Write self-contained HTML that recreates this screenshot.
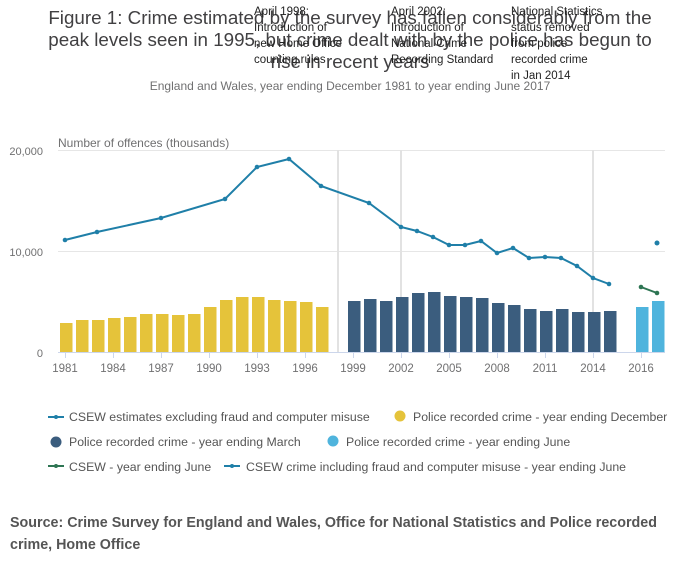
<!DOCTYPE html>
<html><head><meta charset="utf-8"><style>
body{margin:0;background:#fff;}
svg{display:block;font-family:"Liberation Sans",sans-serif;}
</style></head><body>
<svg id="s" width="700" height="574" viewBox="0 0 700 574" xmlns="http://www.w3.org/2000/svg">
<g font-size="18.8" fill="#414042" text-anchor="middle">
<text x="350" y="24">Figure 1: Crime estimated by the survey has fallen considerably from the</text>
<text x="350" y="46">peak levels seen in 1995, but crime dealt with by the police has begun to</text>
<text x="350" y="68">rise in recent years</text>
</g>
<text x="350" y="90" font-size="12" fill="#707071" text-anchor="middle">England and Wales, year ending December 1981 to year ending June 2017</text>
<g font-size="11.5" fill="#222">
<text x="254" y="15">April 1998:</text><text x="254" y="31">Introduction of</text><text x="254" y="47">new Home Office</text><text x="254" y="63">counting rules</text>
<text x="391" y="15">April 2002:</text><text x="391" y="31">Introduction of</text><text x="391" y="47">National Crime</text><text x="391" y="63">Recording Standard</text>
<text x="511" y="15">National Statistics</text><text x="511" y="31">status removed</text><text x="511" y="47">from police</text><text x="511" y="63">recorded crime</text><text x="511" y="79">in Jan 2014</text>
</g>
<text x="58" y="147" font-size="12" fill="#707071">Number of offences (thousands)</text>
<g stroke="#e6e6e6" stroke-width="1">
<line x1="58" y1="150.5" x2="665" y2="150.5"/><line x1="58" y1="251.5" x2="665" y2="251.5"/>
</g>
<g stroke="#e2e2e2" stroke-width="2">
<line x1="338" y1="150" x2="338" y2="352"/><line x1="401" y1="150" x2="401" y2="352"/><line x1="593" y1="150" x2="593" y2="352"/>
</g>
<g font-size="11" fill="#707071" text-anchor="end">
<text x="43" y="155">20,000</text><text x="43" y="256">10,000</text><text x="43" y="357">0</text>
</g>
<g id="bars"></g>
<line x1="58" y1="352.5" x2="665" y2="352.5" stroke="#ccd6eb"/>
<g id="ticks" stroke="#ccd6eb"></g>
<g id="tl" font-size="11.5" fill="#707071" text-anchor="middle"></g>
<polyline fill="none" stroke-width="2" id="bl" style="stroke:#1f7fa8"/>
<g id="dots"></g>
<line x1="641" y1="287" x2="657" y2="293" stroke="#2e7553" stroke-width="2"/>
<circle cx="641" cy="287" r="2.3" fill="#2e7553"/><circle cx="657" cy="293" r="2.3" fill="#2e7553"/>
<circle cx="657" cy="243" r="2.5" fill="#1f7fa8"/>
<g font-size="12.3" fill="#555">
<line x1="48" y1="417" x2="64" y2="417" stroke="#1f7fa8" stroke-width="2"/><circle cx="56" cy="417" r="2" fill="#1f7fa8"/>
<text x="69" y="421">CSEW estimates excluding fraud and computer misuse</text>
<circle cx="400" cy="416" r="5.5" fill="#e5c33a"/><text x="413" y="421">Police recorded crime - year ending December</text>
<circle cx="56" cy="442" r="5.5" fill="#3b5d7e"/><text x="69" y="446">Police recorded crime - year ending March</text>
<circle cx="333" cy="441" r="5.5" fill="#4fb4dd"/><text x="346" y="446">Police recorded crime - year ending June</text>
<line x1="48" y1="466" x2="64" y2="466" stroke="#2e7553" stroke-width="2"/><circle cx="56" cy="466" r="2" fill="#2e7553"/>
<text x="69" y="471">CSEW - year ending June</text>
<line x1="224" y1="466" x2="240" y2="466" stroke="#1f7fa8" stroke-width="2"/><circle cx="232" cy="466" r="2" fill="#1f7fa8"/>
<text x="246" y="471">CSEW crime including fraud and computer misuse - year ending June</text>
</g>
<g font-size="14.3" font-weight="bold" fill="#555">
<text x="10" y="527">Source: Crime Survey for England and Wales, Office for National Statistics and Police recorded</text>
<text x="10" y="549">crime, Home Office</text>
</g>
</svg>
<script>
var ns="http://www.w3.org/2000/svg";
function el(t,a,p){var e=document.createElementNS(ns,t);for(var k in a)e.setAttribute(k,a[k]);document.getElementById(p).appendChild(e);return e;}
var y=[323,320,320,318,317,314,314,315,314,307,300,297,297,300,301,302,307];
y.forEach(function(v,i){var c=66+16*i;el("rect",{x:c-6,y:v,width:12.5,height:352-v,fill:"#e5c33a"},"bars");});
var d=[301,299,301,297,293,292,296,297,298,303,305,309,311,309,312,312,311];
d.forEach(function(v,i){var c=66+16*(i+18);el("rect",{x:c-6,y:v,width:12.5,height:352-v,fill:"#3b5d7e"},"bars");});
[[36,307],[37,301]].forEach(function(p){var c=66+16*p[0];el("rect",{x:c-6,y:p[1],width:12.5,height:352-p[1],fill:"#4fb4dd"},"bars");});
var labs=[[0,"1981"],[3,"1984"],[6,"1987"],[9,"1990"],[12,"1993"],[15,"1996"],[18,"1999"],[21,"2002"],[24,"2005"],[27,"2008"],[30,"2011"],[33,"2014"],[36,"2016"]];
labs.forEach(function(l){var x=65+16*l[0];el("line",{x1:x+.5,y1:352,x2:x+.5,y2:358},"ticks");var t=el("text",{x:x,y:372},"tl");t.textContent=l[1];});
var pts=[[65,240],[97,232],[161,218],[225,199],[257,167],[289,159],[321,186],[369,203],[401,227],[417,231],[433,237],[449,245],[465,245],[481,241],[497,253],[513,248],[529,258],[545,257],[561,258],[577,266],[593,278],[609,284]];
document.getElementById("bl").setAttribute("points",pts.map(function(p){return p.join(",")}).join(" "));
pts.forEach(function(p){el("circle",{cx:p[0],cy:p[1],r:2.3,fill:"#1f7fa8"},"dots");});
</script>
</body></html>
